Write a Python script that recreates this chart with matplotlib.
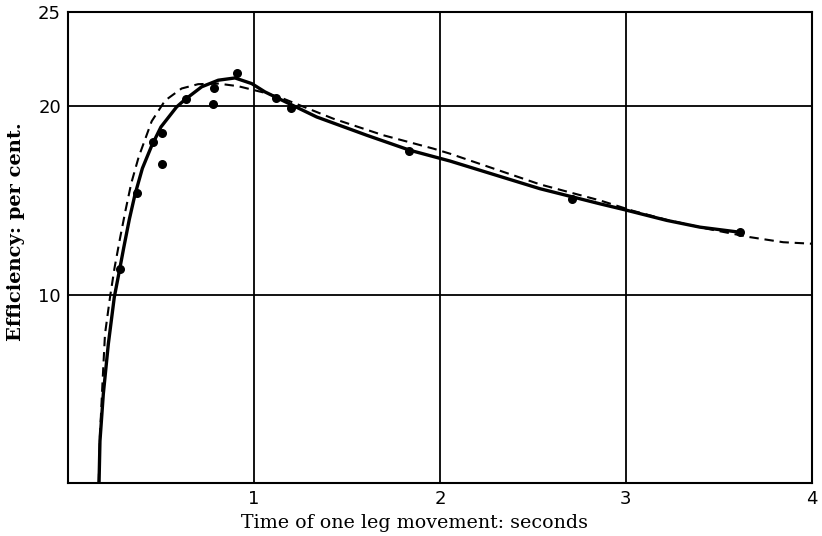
"""
Efficiency vs. time of one leg movement (observed points, fitted and theoretical curves).
"""

import matplotlib.pyplot as plt

# observed points
obs_time = [0.28, 0.371, 0.455, 0.504, 0.504, 0.633, 0.778,
            0.787, 0.909, 1.118, 1.199, 1.835, 2.708, 3.613]
obs_eff = [11.37, 15.41, 18.10, 18.60, 16.91, 20.37, 20.11,
           20.94, 21.76, 20.46, 19.91, 17.62, 15.05, 13.31]

# solid curve (drawn through the observations)
solid_time = [0.167, 0.172, 0.19, 0.217, 0.249, 0.28, 0.30, 0.33, 0.36, 0.40,
              0.45, 0.50, 0.584, 0.629, 0.719, 0.808, 0.898, 0.988, 1.059,
              1.113, 1.337, 1.606, 1.839, 2.054, 2.538, 2.86, 2.995, 3.219,
              3.398, 3.613]
solid_eff = [0.0, 2.23, 4.72, 7.38, 9.86, 11.45, 12.5, 14.0, 15.3, 16.7,
             17.9, 18.9, 19.96, 20.35, 21.03, 21.38, 21.5, 21.2, 20.76,
             20.5, 19.43, 18.46, 17.66, 17.09, 15.62, 14.82, 14.5, 13.94,
             13.58, 13.31]

# dashed curve (theoretical)
dash_time = [0.165, 0.172, 0.185, 0.199, 0.226, 0.25, 0.28, 0.31, 0.34, 0.38,
             0.45, 0.522, 0.611, 0.7, 0.808, 0.916, 1.059, 1.158, 1.426, 1.695,
             1.964, 2.054, 2.538, 2.86, 3.04, 3.219, 3.434, 3.667, 3.846, 4.0]
dash_eff = [0.0, 2.5, 5.2, 7.9, 9.86, 11.4, 13.0, 14.5, 15.9, 17.3,
            19.2, 20.3, 20.94, 21.17, 21.2, 21.06, 20.71, 20.4, 19.34, 18.46,
            17.75, 17.48, 15.85, 15.0, 14.44, 13.97, 13.5, 13.05, 12.78, 12.7]

x_ticks = [1, 2, 3, 4]
y_ticks = [10, 20, 25]

fig = plt.figure(figsize=(8.22, 5.36), dpi=100)
ax = fig.add_axes([0.0827, 0.0989, 0.905, 0.8787])

# grid lines
for gx in [1, 2, 3]:
    ax.axvline(gx, color="black", linewidth=1.3, zorder=1)
for gy in [10, 20]:
    ax.axhline(gy, color="black", linewidth=1.3, zorder=1)

ax.plot(solid_time, solid_eff, color="black", linewidth=2.4,
        solid_capstyle="round", zorder=3)
ax.plot(dash_time, dash_eff, color="black", linewidth=1.5,
        linestyle=(0, (4.5, 2.8)), zorder=3)
ax.scatter(obs_time, obs_eff, s=30, color="black", zorder=4)

ax.set_xlim(0, 4)
ax.set_ylim(0, 25)
ax.set_xticks(x_ticks)
ax.set_yticks(y_ticks)
ax.set_xticklabels([str(t) for t in x_ticks], fontsize=13, family="DejaVu Sans")
ax.set_yticklabels([str(t) for t in y_ticks], fontsize=13, family="DejaVu Sans")
ax.tick_params(length=0, pad=5)

for spine in ax.spines.values():
    spine.set_linewidth(1.5)
    spine.set_color("black")

ax.set_xlabel("Time of one leg movement: seconds", fontsize=13.7,
              family="DejaVu Serif")
ax.xaxis.set_label_coords(0.466, -0.065)
ax.set_ylabel("Efficiency: per cent.", fontsize=14, family="DejaVu Serif",
              fontweight="bold")
ax.yaxis.set_label_coords(-0.058, 0.533)

fig.savefig("out.png", dpi=100)
